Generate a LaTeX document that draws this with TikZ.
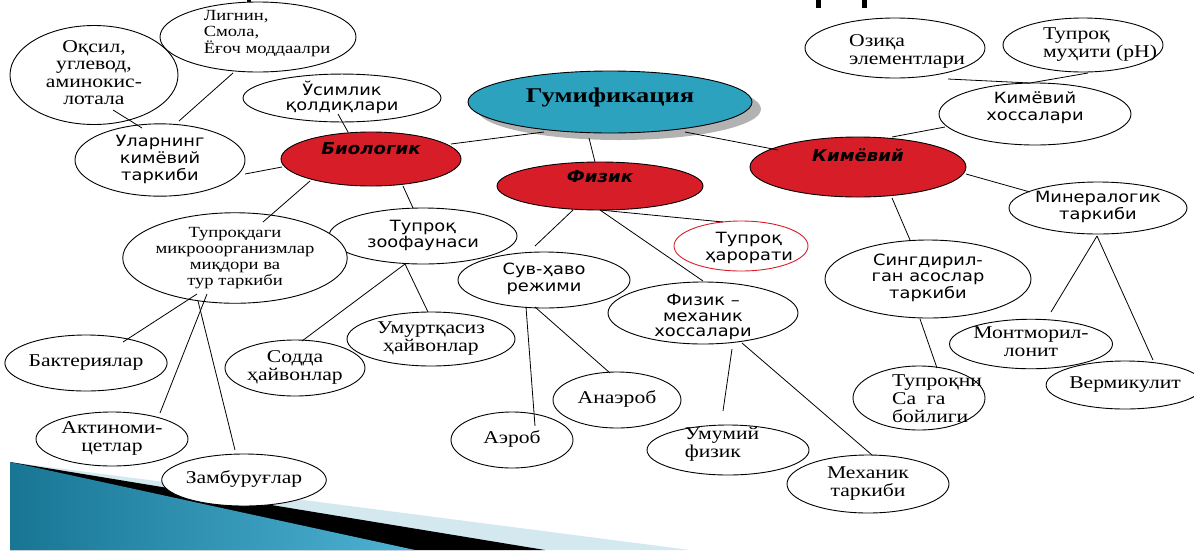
\documentclass[tikz,border=0pt]{standalone}
\usepackage{fontspec}
\setmainfont{Liberation Serif}
\newfontfamily\dv{DejaVu Sans}
\usetikzlibrary{shapes.geometric,calc}
\definecolor{redf}{RGB}{215,30,40}
\definecolor{bluef}{RGB}{44,162,191}
\definecolor{lightb}{RGB}{212,232,240}
\definecolor{tealA}{RGB}{24,118,148}
\definecolor{tealB}{RGB}{78,178,212}
\newcommand\SC[2][1.2]{\scalebox{#1}[1]{\begin{tabular}{@{}c@{}}#2\end{tabular}}}
\newcommand\SL[2][1.2]{\scalebox{#1}[1]{\begin{tabular}{@{}l@{}}#2\end{tabular}}}
\newcommand\DC[2][1.15]{\scalebox{#1}[1]{\begin{tabular}{@{}c@{}}#2\end{tabular}}}
\tikzset{
  el/.style={ellipse, draw=black, line width=0.9pt, fill=white, inner sep=0pt},
  sz/.style 2 args={minimum width=#1pt, minimum height=#2pt},
  ser/.style={font=\fontsize{18}{17.5}\selectfont},
  sers/.style={font=\fontsize{15.5}{15.5}\selectfont},
  sans/.style={font=\dv\fontsize{15.5}{17}\selectfont},
  bi/.style={font=\dv\bfseries\itshape\fontsize{16.5}{17}\selectfont},
  redel/.style={el, fill=redf},
  con/.style={line width=0.8pt, black}
}
\begin{document}
\begin{tikzpicture}[x=1pt, y=-1pt]
\useasboundingbox (0,0) rectangle (1194,550);
% bottom decoration
\fill[lightb] (10,462) -- (690,550) -- (10,550) -- cycle;
\fill[black] (10,462) -- (545,550) -- (10,550) -- cycle;
\shade[left color=tealA, right color=tealB] (10,462) -- (415,550) -- (10,550) -- cycle;
% title fragments at top edge
\fill[black] (247,0) rectangle (251,3);
\fill[black] (816,0) rectangle (821,8);
\fill[black] (862,0) rectangle (867,8);

% nodes
\node[el, sz={168}{70}, ser] (ok) at (94,75) {\SC{Оқсил,\\углевод,\\аминокис-\\лотала}};
\node[el, sz={196}{70}, label={[sers, xshift=9pt, yshift=3pt]center:\SL{Лигнин,\\Смола,\\Ёғоч моддаалри}}] (lig) at (258,37) {};
\node[el, sz={198}{30}, font=\dv\fontsize{15.5}{15}\selectfont] (usim) at (342,98) {\DC{Ўсимлик\\қолдиқлари}};
\node[el, sz={170}{68}, font=\dv\fontsize{15.5}{17}\selectfont] (ul) at (160,160) {\DC{Уларнинг\\кимёвий\\таркиби}};
\node[redel, sz={180}{54}, label={[bi, yshift=10pt]center:\scalebox{1.1}[1]{Биологик}}] (bio) at (371,159) {};
\fill[gray!60] (619,109) ellipse [x radius=142, y radius=31];
\node[el, fill=bluef, sz={284}{62}, label={[font=\bfseries\fontsize{21}{21}\selectfont, yshift=5pt]center:\scalebox{1.26}[1]{Гумификация}}] (gum) at (610,102) {};
\node[redel, sz={206}{48}, label={[bi, yshift=9pt]center:\scalebox{1.1}[1]{Физик}}] (fiz) at (600,186) {};
\node[redel, sz={216}{60}, label={[bi, yshift=12pt]center:\scalebox{1.1}[1]{Кимёвий}}] (kim) at (858,167) {};
\node[el, sz={192}{62}, label={[sans, yshift=5pt]center:\DC{Кимёвий\\хоссалари}}] (kh) at (1035,114) {};
\node[el, sz={180}{60}, label={[ser, xshift=12pt, yshift=-4pt]center:\SL{Озиқа\\элементлари}}] (oz) at (895,48) {};
\node[el, sz={160}{54}, label={[ser, xshift=17pt]center:\SL{Тупроқ\\муҳити (pH)}}] (ph) at (1083,45) {};
\node[el, sz={170}{52}, font=\dv\fontsize{15.5}{16}\selectfont] (mnr) at (1098,208) {\DC{Минералогик\\таркиби}};
\node[el, sz={206}{78}, font=\dv\fontsize{15.5}{16}\selectfont] (sing) at (928,279) {\DC{Сингдирил-\\ган асослар\\таркиби}};
\node[el, sz={132}{44}, ser] (mon) at (1031,344) {\SC{Монтморил-\\лонит}};
\node[el, sz={132}{48}, ser] (ver) at (1125,385) {\SC{Вермикулит}};
\node[el, sz={132}{64}, label={[ser, xshift=18pt, yshift=-3pt]center:\SL{Тупроқни\\Са~~га\\бойлиги}}] (ca) at (919,398) {};
\node[el, draw=redf, sz={134}{50}, label={[sans, xshift=8pt, yshift=-3pt]center:\DC{Тупроқ\\ҳарорати}}] (har) at (741,246) {};
\node[el, sz={190}{62}, label={[font=\dv\fontsize{15.5}{15.5}\selectfont, yshift=-5pt]center:\DC{Физик –\\механик\\хоссалари}}] (fm) at (703,313) {};
\node[el, sz={172}{56}, sans] (suv) at (544,280) {\DC{Сув-ҳаво\\режими}};
\node[el, sz={188}{56}, font=\dv\fontsize{15.5}{15.5}\selectfont] (zoo) at (423,236) {\DC{Тупроқ\\зоофаунаси}};
\node[el, sz={186}{72}, font=\fontsize{15.5}{16}\selectfont] (tm) at (235,258) {\SC{Тупроқдаги\\микрооорганизмлар\\миқдори ва\\тур таркиби}};
\node[el, sz={168}{54}, ser] (umu) at (431,339) {\SC{Умуртқасиз\\ҳайвонлар}};
\node[el, sz={140}{56}, ser] (sod) at (295,368) {\SC{Содда\\ҳайвонлар}};
\node[el, sz={152}{56}, ser] (bak) at (86,363) {\SC{Бактериялар}};
\node[el, sz={152}{54}, ser] (akt) at (112,439) {\SC{Актиноми-\\цетлар}};
\node[el, sz={152}{52}, ser] (zam) at (244,480) {\SC{Замбуруғлар}};
\node[el, sz={122}{56}, ser] (aer) at (512,440) {\SC{Аэроб}};
\node[el, sz={128}{56}, ser] (ana) at (617,400) {\SC{Анаэроб}};
\node[el, sz={162}{50}, label={[ser, xshift=-6pt, yshift=5pt]center:\SL{Умумий\\физик}}] (umf) at (728,450) {};
\node[el, sz={162}{58}, ser] (mex) at (868,484) {\SC{Механик\\таркиби}};

% connectors
\draw[con] ($(ok)+(19,35)$) -- ($(ul)+(-18,-32)$);
\draw[con] ($(lig)+(-25,36)$) -- ($(ul)+(19,-39)$);
\draw[con] ($(ul)+(85,14)$) -- ($(bio)+(-89,8)$);
\draw[con] ($(usim)+(-4,16)$) -- ($(bio)+(-23,-27)$);
\draw[con] ($(bio)+(80,-15)$) -- ($(gum)+(-66,30)$);
\draw[con] ($(gum)+(-21,36)$) -- ($(fiz)+(-5,-24)$);
\draw[con] ($(gum)+(75,30)$) -- ($(kim)+(-80,-17)$);
\draw[con] ($(kim)+(34,-30)$) -- ($(kh)+(-90,13)$);
\draw[con] ($(oz)+(53,31)$) -- ($(kh)+(-5,-31)$);
\draw[con] ($(ph)+(5,28)$) -- ($(kh)+(-5,-31)$);
\draw[con] ($(kim)+(108,7)$) -- ($(mnr)+(-68,-16)$);
\draw[con] ($(kim)+(34,31)$) -- ($(sing)+(-18,-39)$);
\draw[con] ($(sing)+(-8,40)$) -- ($(ca)+(18,-30)$);
\draw[con] ($(mnr)+(-1,28)$) -- ($(mon)+(20,-32)$);
\draw[con] ($(mnr)+(-1,28)$) -- ($(ver)+(28,-25)$);
\draw[con] ($(bio)+(-61,22)$) -- ($(tm)+(28,-36)$);
\draw[con] ($(bio)+(32,27)$) -- ($(zoo)+(-10,-28)$);
\draw[con] ($(fiz)+(-27,24)$) -- ($(suv)+(-9,-34)$);
\draw[con] ($(fiz)+(0,24)$) -- ($(har)+(-18,-24)$);
\draw[con] ($(fiz)+(0,24)$) -- ($(fm)+(0,-32)$);
\draw[con] ($(suv)+(-18,27)$) -- ($(aer)+(23,-14)$);
\draw[con] ($(suv)+(-9,27)$) -- ($(ana)+(-7,-27)$);
\draw[con] ($(fm)+(29,36)$) -- ($(umf)+(-5,-39)$);
\draw[con] ($(fm)+(39,30)$) -- ($(mex)+(4,-29)$);
\draw[con] ($(tm)+(-38,36)$) -- ($(bak)+(37,-21)$);
\draw[con] ($(tm)+(-28,36)$) -- ($(akt)+(48,-26)$);
\draw[con] ($(tm)+(-37,43)$) -- ($(zam)+(-9,-30)$);
\draw[con] ($(zoo)+(-18,28)$) -- ($(sod)+(7,-27)$);
\draw[con] ($(zoo)+(-18,28)$) -- ($(umu)+(-3,-27)$);
\end{tikzpicture}
\end{document}
